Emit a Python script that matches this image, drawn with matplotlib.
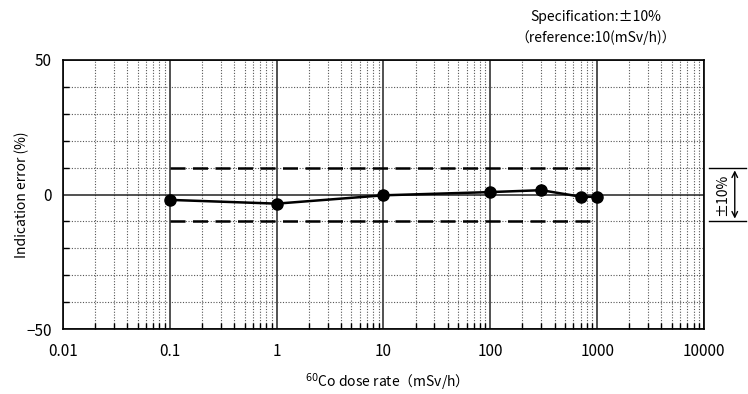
import numpy as np
import matplotlib.pyplot as plt
from matplotlib.ticker import LogLocator, FixedLocator, NullFormatter

plt.rcParams['font.family'] = ['Noto Sans CJK JP', 'DejaVu Sans']

# data
dose_rate = [0.1, 1, 10, 100, 300, 700, 1000]
error = [-2.0, -3.4, -0.3, 0.9, 1.6, -0.8, -0.9]

spec = 10
spec_range = [0.1, 1000]

fig = plt.figure(figsize=(7.48, 3.94), dpi=100)
ax = fig.add_axes([63 / 748, 1 - 329 / 394, 641 / 748, 269 / 394])

ax.set_xscale('log')
ax.set_xlim(0.01, 10000)
ax.set_ylim(-50, 50)

# grid
ax.xaxis.set_minor_locator(LogLocator(base=10, subs=np.arange(2, 10), numticks=20))
ax.xaxis.set_minor_formatter(NullFormatter())
ax.set_xticks([0.01, 0.1, 1, 10, 100, 1000, 10000])
ax.set_xticklabels(['0.01', '0.1', '1', '10', '100', '1000', '10000'])
ax.set_yticks([-50, 0, 50])
ax.set_yticklabels(['\u221250', '0', '50'])
ax.yaxis.set_minor_locator(FixedLocator(np.arange(-40, 41, 10)))

ax.grid(which='major', axis='both', color='#222222', linewidth=1.1, linestyle='-')
ax.grid(which='minor', axis='both', color='#555555', linewidth=0.8, linestyle=(0, (1, 1.5)))
ax.tick_params(which='major', direction='in', length=0, labelsize=11)
ax.tick_params(axis='x', which='major', pad=10)
ax.tick_params(axis='y', which='major', pad=8)
ax.tick_params(which='minor', direction='in', length=4, width=1, color='black')
for s in ax.spines.values():
    s.set_linewidth(1.2)

# specification limits
ax.plot(spec_range, [spec, spec], color='black', linestyle=(0, (6, 3)), linewidth=1.8)
ax.plot(spec_range, [-spec, -spec], color='black', linestyle=(0, (6, 3)), linewidth=1.8)

# data
ax.plot(dose_rate, error, color='black', linewidth=1.8, marker='o', markersize=8, zorder=5)

ax.set_xlabel('$^{60}$Co dose rate\uff08mSv/h\uff09', fontsize=10, labelpad=8)
ax.set_ylabel('Indication error (%)', fontsize=10, labelpad=-2)

# spec text
fig.text(596 / 748, 1 - 17 / 394, 'Specification:\u00b110%', ha='center', va='center', fontsize=10)
fig.text(596 / 748, 1 - 38 / 394, '\uff08reference:10(mSv/h)\uff09', ha='center', va='center', fontsize=10)

# right bracket annotation
tr = ax.get_yaxis_transform()
ax.plot([1.008, 1.065], [spec, spec], color='black', linewidth=1, transform=tr, clip_on=False)
ax.plot([1.008, 1.065], [-spec, -spec], color='black', linewidth=1, transform=tr, clip_on=False)
ax.annotate('', xy=(1.048, -spec), xytext=(1.048, spec), xycoords=tr, textcoords=tr,
            arrowprops=dict(arrowstyle='<->', color='black', lw=1))
ax.text(1.028, 0, '\u00b110%', transform=tr, rotation=90, ha='center', va='center', fontsize=10)

fig.savefig('out.png', dpi=100)
